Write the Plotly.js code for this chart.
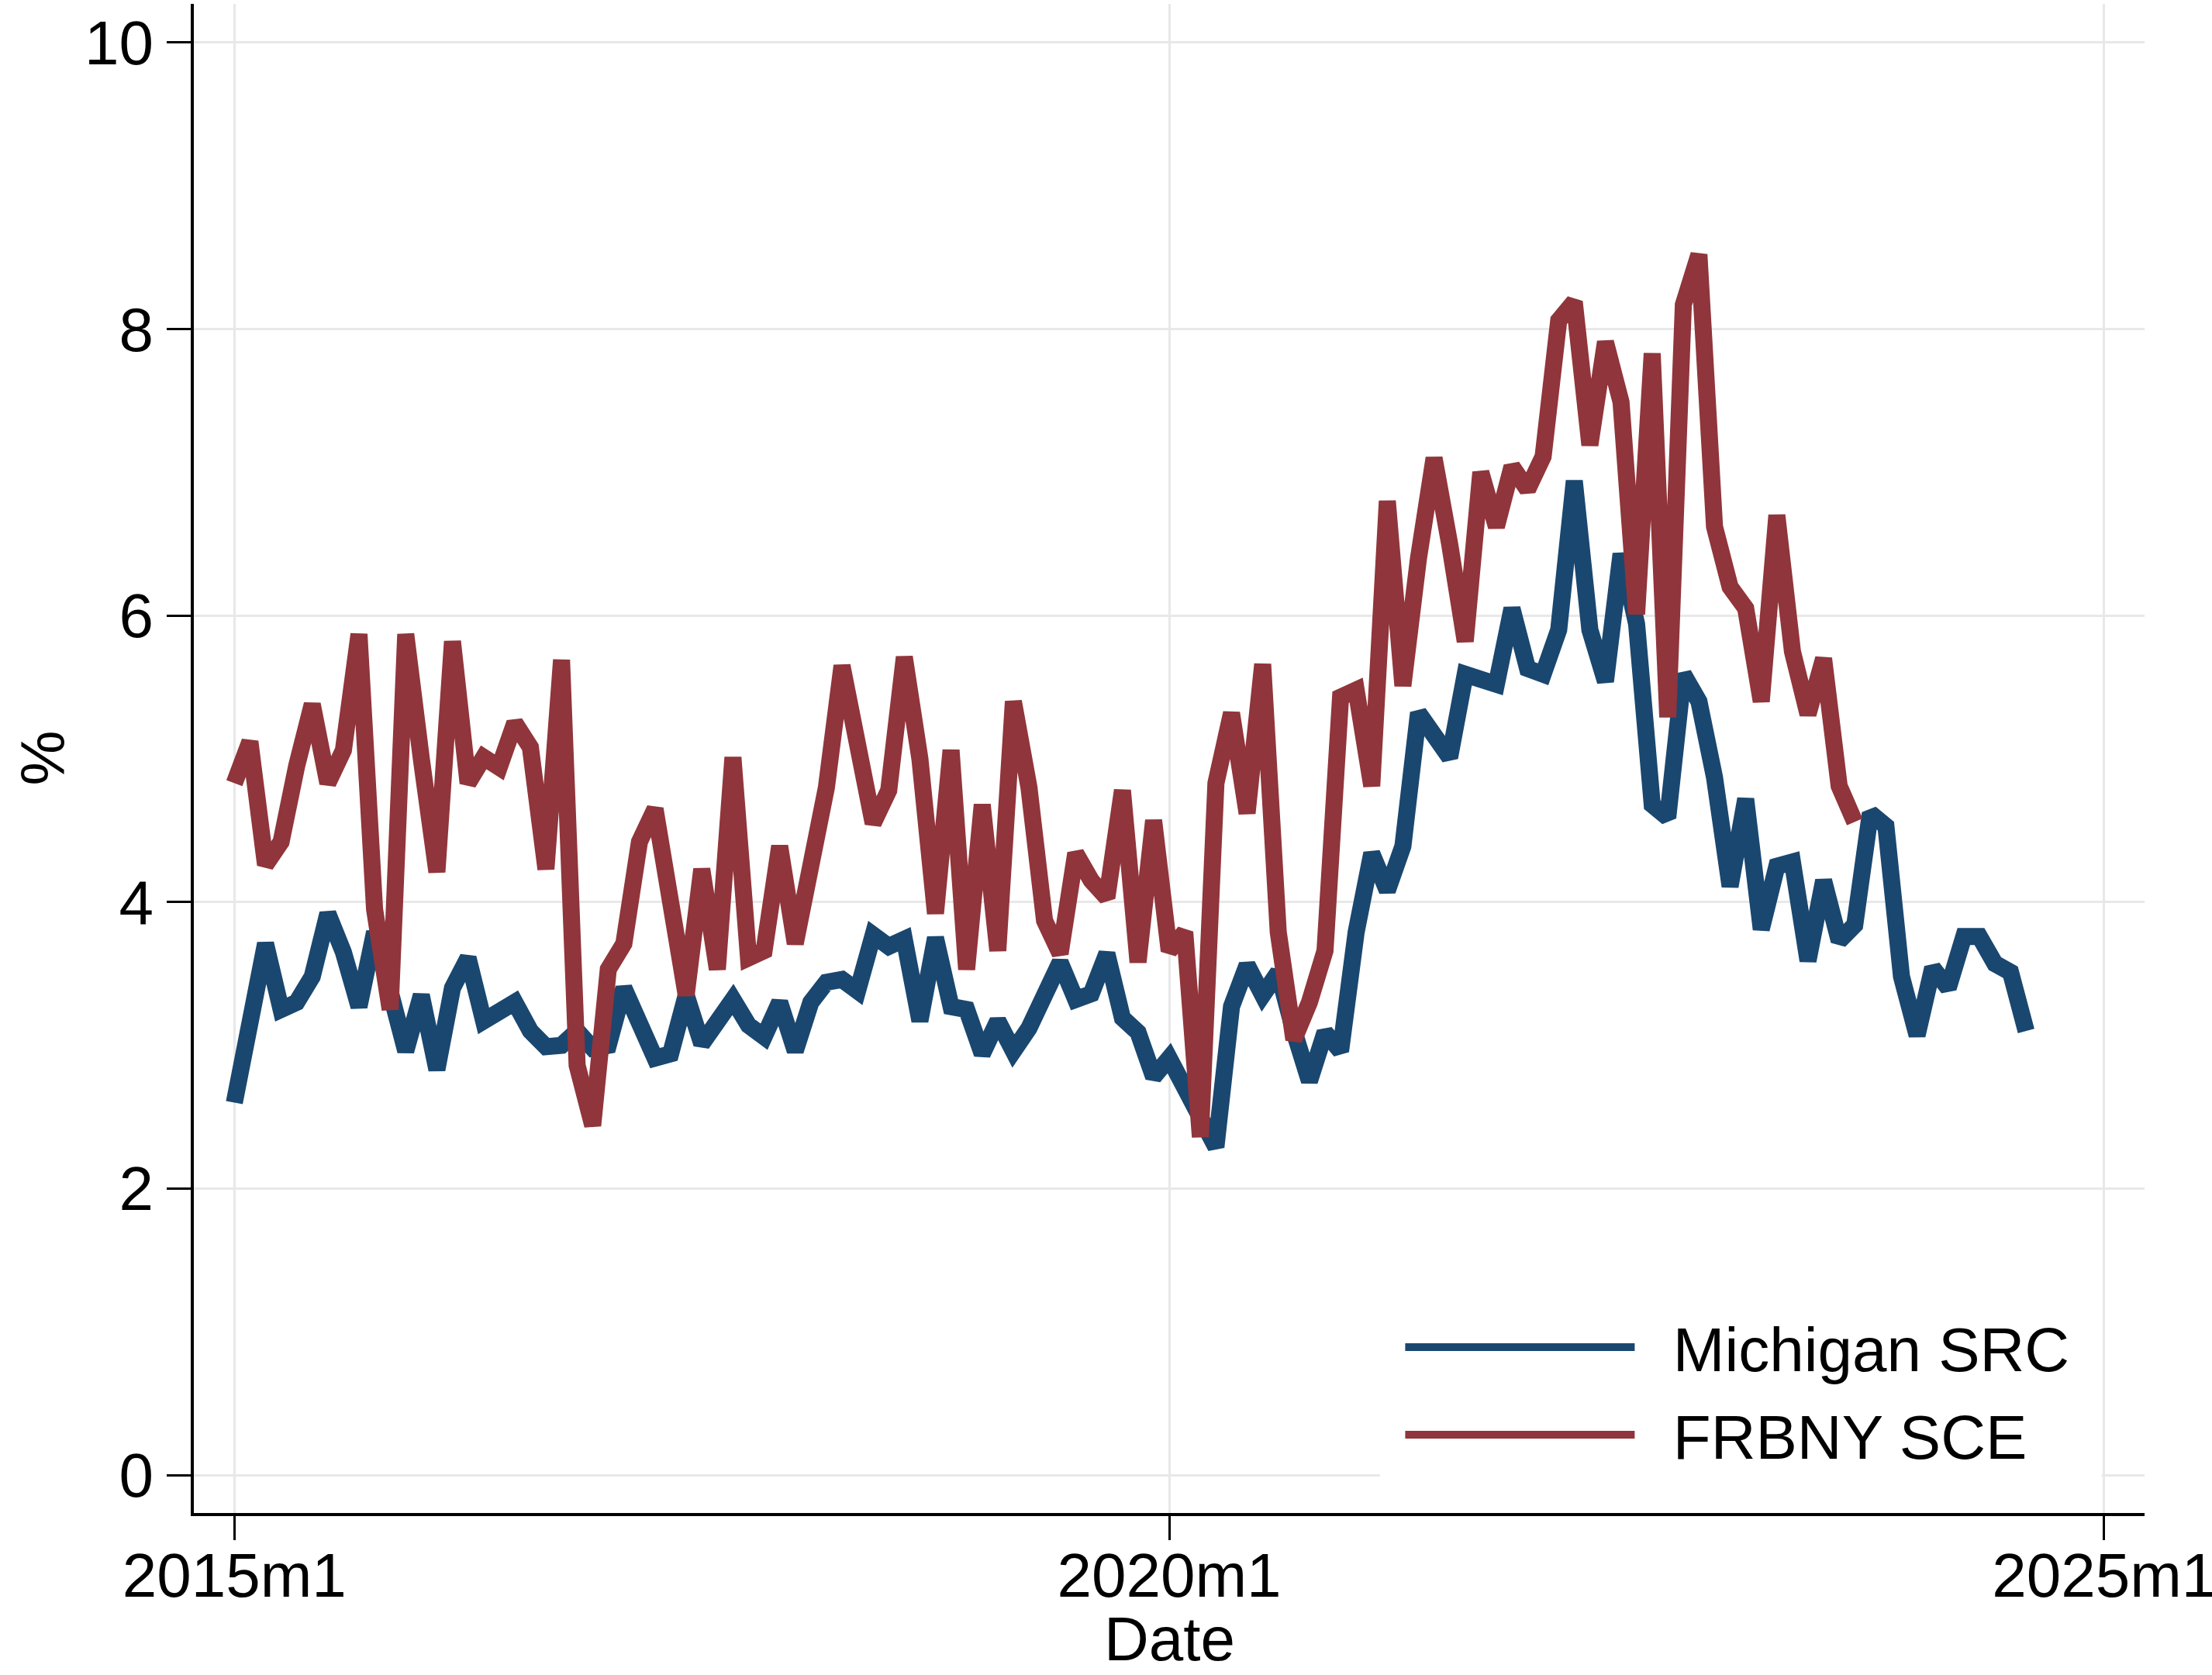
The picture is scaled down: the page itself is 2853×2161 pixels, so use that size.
<!DOCTYPE html>
<html>
<head>
<meta charset="utf-8">
<script src="https://cdn.plot.ly/plotly-3.0.1.min.js"></script>
<style>
  html, body { margin: 0; padding: 0; background: #ffffff; }
  #expectations-plot { width: 2853px; height: 2161px; }
</style>
</head>
<body>
<div id="expectations-plot"></div>
<script>
// one-year-ahead inflation expectations, monthly from 2015m1
var michiganSRC = [
    2.60, 3.20, 3.71, 3.25, 3.30, 3.48, 3.92, 3.65, 3.27, 3.79, 3.35, 2.96,
    3.35, 2.83, 3.40, 3.61, 3.17, 3.25, 3.30, 3.10, 2.99, 3.00, 3.10, 2.98,
    3.00, 3.40, 3.14, 2.91, 2.94, 3.35, 3.01, 3.19, 3.32, 3.14, 3.06, 3.30,
    2.96, 3.30, 3.44, 3.46, 3.38, 3.77, 3.69, 3.74, 3.17, 3.75, 3.27, 3.25,
    2.94, 3.17, 2.96, 3.12, 3.35, 3.58, 3.32, 3.36, 3.64, 3.19, 3.09, 2.78,
    2.91, 2.70, 2.52, 2.29, 3.27, 3.56, 3.35, 3.51, 3.10, 2.75, 3.09, 2.96,
    3.79, 4.34, 4.08, 4.39, 5.32, 5.14, 5.01, 5.59, 5.55, 5.52, 6.05, 5.63,
    5.59, 5.90, 6.94, 5.90, 5.54, 6.43, 5.94, 4.68, 4.59, 5.59, 5.40, 4.87,
    4.11, 4.72, 3.81, 4.25, 4.28, 3.59, 4.15, 3.73, 3.84, 4.62, 4.53, 3.48,
    3.07, 3.54, 3.40, 3.76, 3.76, 3.57, 3.51, 3.10
];

var frbnySCE = [
    4.83, 5.12, 4.26, 4.42, 4.95, 5.38, 4.83, 5.06, 5.87, 3.95, 3.25, 5.87,
    5.00, 4.21, 5.82, 4.83, 5.01, 4.94, 5.25, 5.08, 4.23, 5.69, 2.86, 2.44,
    3.53, 3.71, 4.42, 4.65, 4.00, 3.35, 4.23, 3.53, 5.01, 3.61, 3.66, 4.39,
    3.71, 4.30, 4.80, 5.65, 5.10, 4.55, 4.78, 5.71, 5.00, 3.92, 5.06, 3.53,
    4.68, 3.66, 5.40, 4.80, 3.87, 3.64, 4.34, 4.15, 4.03, 4.78, 3.58, 4.57,
    3.66, 3.79, 2.36, 4.83, 5.32, 4.62, 5.66, 3.79, 3.04, 3.30, 3.66, 5.43,
    5.48, 4.81, 6.80, 5.51, 6.40, 7.10, 6.50, 5.82, 7.00, 6.62, 7.04, 6.88,
    7.11, 8.06, 8.19, 7.19, 7.91, 7.49, 6.01, 7.83, 5.29, 8.17, 8.52, 6.62,
    6.20, 6.05, 5.40, 6.70, 5.75, 5.31, 5.70, 4.81, 4.56
];

var tickMonths = [0, 60, 120];
var tickLabels = ["2015m1", "2020m1", "2025m1"];
var yTicks = [0, 2, 4, 6, 8, 10];

function monthIndex(series){
    return series.map(function(v, i){ return i; });
}

var fontFamily = "Liberation Sans, Arial, Helvetica, sans-serif";
var pad = "\u00a0\u00a0";

var trace1 = {
    x: monthIndex(michiganSRC),
    y: michiganSRC,
    name: pad + "Michigan SRC",
    legendgroup: "a",
    type: "scatter",
    mode: "lines",
    line: {color: "#1a476f", width: 22}
};

var trace2 = {
    x: monthIndex(frbnySCE),
    y: frbnySCE,
    name: pad + "FRBNY SCE",
    legendgroup: "b",
    type: "scatter",
    mode: "lines",
    line: {color: "#90353b", width: 22}
};

var layout = {
    width: 2853,
    height: 2161,
    margin: {l: 250, r: 87, t: 5, b: 209},
    paper_bgcolor: "#ffffff",
    plot_bgcolor: "#ffffff",
    font: {family: fontFamily, size: 80, color: "#000000"},
    showlegend: true,
    legend: {
        x: 0.619, y: 0.140,
        xanchor: "left", yanchor: "top",
        bgcolor: "rgba(255,255,255,0)",
        borderwidth: 0,
        itemwidth: 296,
        traceorder: "grouped",
        tracegroupgap: 6,
        font: {family: fontFamily, size: 80, color: "#000000"}
    },
    // white panel behind the legend, hiding the grid there
    shapes: [{
        type: "rect", xref: "paper", yref: "paper",
        x0: 0.608, x1: 0.978, y0: 0.0236, y1: 0.1505,
        fillcolor: "#ffffff", line: {width: 0}, layer: "above"
    }],
    // axis titles placed by hand (standoff is ignored without automargin)
    annotations: [
        {text: "Date", xref: "paper", yref: "paper", x: 0.5, y: -0.0835,
         xanchor: "center", yanchor: "middle", showarrow: false,
         font: {family: fontFamily, size: 80}},
        {text: "%", xref: "paper", yref: "paper", x: -0.0775, y: 0.5,
         xanchor: "center", yanchor: "middle", showarrow: false, textangle: -90,
         font: {family: fontFamily, size: 80}}
    ],
    xaxis: {
        range: [-2.6, 122.6],
        tickmode: "array",
        tickvals: tickMonths,
        ticktext: tickLabels,
        ticks: "outside",
        ticklen: 31,
        tickwidth: 3,
        tickcolor: "#000000",
        showline: true,
        linecolor: "#000000",
        linewidth: 4,
        showgrid: true,
        gridcolor: "#e8e8e8",
        gridwidth: 3,
        zeroline: false,
        ticklabelstandoff: -23,
        ticklabeloverflow: "allow",
        automargin: false
    },
    yaxis: {
        range: [-0.265, 10.27],
        tickmode: "array",
        tickvals: yTicks,
        ticks: "outside",
        ticklen: 31,
        tickwidth: 3,
        tickcolor: "#000000",
        showline: true,
        linecolor: "#000000",
        linewidth: 4,
        showgrid: true,
        gridcolor: "#e8e8e8",
        gridwidth: 3,
        zeroline: false,
        ticklabelstandoff: 1,
        automargin: false
    }
};

Plotly.newPlot("expectations-plot", [trace1, trace2], layout, {displayModeBar: false, staticPlot: true});
</script>
</body>
</html>
